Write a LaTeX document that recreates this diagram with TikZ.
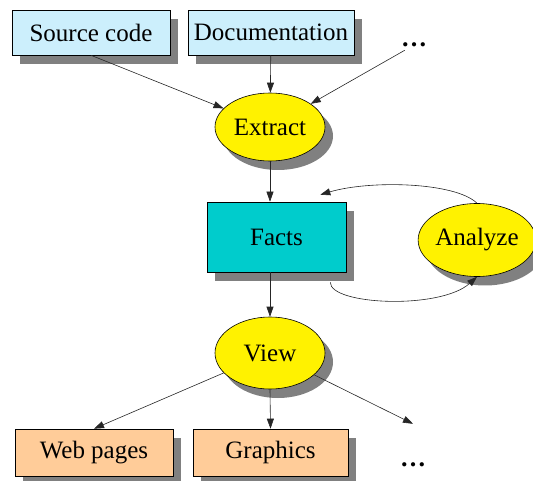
\documentclass[tikz,border=0pt]{standalone}
\usepackage{fontspec}
\setmainfont{Liberation Serif}
\usetikzlibrary{shapes.geometric, arrows.meta, positioning, shadows}

\definecolor{factcyan}{RGB}{0,204,204}
\definecolor{outpeach}{RGB}{255,204,153}

\begin{document}
\begin{tikzpicture}[
    x=1pt, y=-1pt,
    font=\fontsize{25}{29}\selectfont,
    boxshadow/.style={drop shadow={shadow xshift=8pt, shadow yshift=-9pt, fill=black!50, opacity=1}},
    inputbox/.style={draw=black, line width=0.6pt, fill=cyan!20, minimum height=45pt, inner sep=0pt, boxshadow},
    factbox/.style={draw=black, line width=0.6pt, fill=factcyan, minimum width=139pt, minimum height=70pt, inner sep=0pt, boxshadow},
    outbox/.style={draw=black, line width=0.6pt, fill=outpeach, minimum height=47pt, inner sep=0pt, boxshadow},
    stepnode/.style={ellipse, draw=black, line width=0.6pt, fill=yellow, minimum width=110pt, minimum height=68pt, inner sep=0pt, boxshadow},
    more/.style={font=\fontsize{26}{30}\selectfont\bfseries, inner sep=3pt},
    arrow/.style={-{Triangle[length=10pt, width=7pt]}, line width=0.6pt, color=black!85}
]
\useasboundingbox (0,0) rectangle (533,481);

% === INPUTS ===
\node[inputbox, minimum width=158pt] (source) at (91, 32.5) {Source code};
\node[inputbox, minimum width=166pt] (docs) at (271, 32.5) {Documentation};
\node[more] (moreIn) at (414, 45) {\dots};

% === STEPS ===
\node[stepnode] (extract) at (270, 127) {Extract};
\node[factbox] (facts) at (276.5, 237) {Facts};
\node[stepnode, minimum height=73pt] (analyze) at (477, 240) {Analyze};
\node[stepnode, minimum height=72pt] (view) at (270, 353) {View};

% === OUTPUTS ===
\node[outbox, minimum width=158pt] (web) at (94, 452.5) {Web pages};
\node[outbox, minimum width=155pt] (graphics) at (270.5, 452.5) {Graphics};
\node[more, minimum height=82pt] (moreOut) at (413, 465) {\dots};

% === ARROWS ===
\draw[arrow] (source.south) -- (extract);
\draw[arrow] (docs) -- (extract);
\draw[arrow] (moreIn) -- (extract);
\draw[arrow] (extract.south) -- (facts.north -| extract.south);
\draw[arrow] (facts.south -| view.north) -- (view.north);
\draw[arrow] (analyze.north) .. controls (455, 182) and (370, 180) .. ([xshift=-26pt, yshift=7pt]facts.north east);
\draw[arrow] ([xshift=-16pt, yshift=-10pt]facts.south east) .. controls (330, 305) and (440, 310) .. (analyze.south);
\draw[arrow] (view) -- (web.north);
\draw[arrow] (view.south) -- (graphics.north);
\draw[arrow] (view) -- (moreOut.north);

\end{tikzpicture}
\end{document}
